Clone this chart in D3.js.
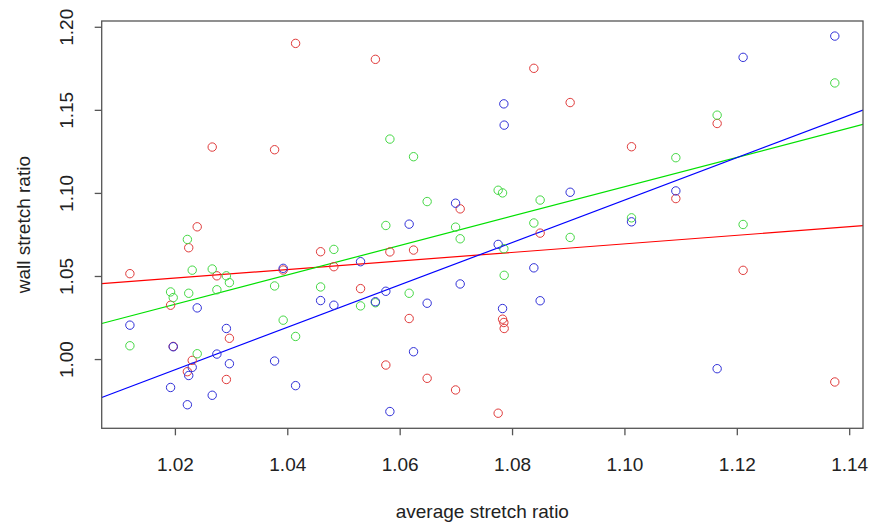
<!DOCTYPE html>
<html><head><meta charset="utf-8">
<script src="https://cdn.jsdelivr.net/npm/d3@7"></script>
<style>body{margin:0;background:#fff}svg{display:block}text{font-family:"Liberation Sans",Arial,sans-serif;fill:#222}</style>
</head><body><svg id="c" width="872" height="527"></svg>
<script>
// average stretch ratio (shared x for three series)
const avgStretch = [1.01199,1.01923,1.01970,1.02222,1.02246,1.02308,1.02397,1.02664,1.02747,1.02916,1.02970,1.03774,1.03927,1.04148,1.04593,1.04829,1.05304,1.05568,1.05754,1.05826,1.06169,1.06247,1.06489,1.06995,1.07077,1.07753,1.07831,1.07854,1.07860,1.08388,1.08500,1.09034,1.10126,1.10915,1.11650,1.12112,1.13744];
const redWall   = [1.0514,1.0324,1.0076,0.9924,1.0670,0.9992,1.0796,1.1276,1.0501,0.9877,1.0125,1.1260,1.0536,1.1900,1.0646,1.0556,1.0424,1.1804,0.9964,1.0645,1.0244,1.0656,0.9884,0.9814,1.0904,0.9674,1.0240,1.0220,1.0184,1.1750,1.0758,1.1544,1.1278,1.0966,1.1418,1.0534,0.9862];
const greenWall = [1.0080,1.0404,1.0370,1.0720,1.0396,1.0535,1.0032,1.0542,1.0417,1.0501,1.0460,1.0440,1.0234,1.0136,1.0434,1.0660,1.0320,1.0339,1.0804,1.1324,1.0396,1.1218,1.0948,1.0794,1.0724,1.1016,1.1000,1.0664,1.0504,1.0819,1.0957,1.0732,1.0850,1.1212,1.1468,1.0810,1.1662];
const blueWall  = [1.0204,0.9829,1.0074,0.9725,0.9901,0.9950,1.0308,0.9782,1.0030,1.0184,0.9972,0.9988,1.0546,0.9840,1.0352,1.0324,1.0586,1.0345,1.0408,0.9684,1.0812,1.0044,1.0336,1.0938,1.0452,1.0690,1.0304,1.1536,1.1408,1.0549,1.0351,1.1004,1.0826,1.1012,0.9942,1.1816,1.1944];
const xTicks = [1.02,1.04,1.06,1.08,1.10,1.12,1.14];
const yTicks = [1.00,1.05,1.10,1.15,1.20];
const seriesNames = ["red","green","blue"];
const seriesColors = ["#e03a3a","#44d844","#3030d8"];
const lineColors = ["#ff0000","#00e000","#0000ff"];
const xLabel = "average stretch ratio";
const yLabel = "wall stretch ratio";

const series = [redWall, greenWall, blueWall];
const svg = d3.select("#c");
const L = 101.7, R = 863, T = 21, B = 428.3;

function pad(ext){ const d = ext[1]-ext[0]; return [ext[0]-0.04*d, ext[1]+0.04*d]; }
const x = d3.scaleLinear().domain(pad(d3.extent(avgStretch))).range([L, R]);
const yAll = redWall.concat(greenWall, blueWall);
const y = d3.scaleLinear().domain(pad(d3.extent(yAll))).range([B, T]);

svg.append("clipPath").attr("id","clip").append("rect").attr("x",L).attr("y",T).attr("width",R-L).attr("height",B-T);

// regression lines
function lm(xs, ys){
  const mx = d3.mean(xs), my = d3.mean(ys);
  let sxy=0, sxx=0;
  xs.forEach((v,i)=>{ sxy += (v-mx)*(ys[i]-my); sxx += (v-mx)*(v-mx); });
  const b = sxy/sxx; return {a: my - b*mx, b};
}
const xd = x.domain();
series.forEach((ys, si) => {
  const f = lm(avgStretch, ys);
  svg.append("line").attr("clip-path","url(#clip)")
    .attr("x1", x(xd[0])).attr("y1", y(f.a + f.b*xd[0]))
    .attr("x2", x(xd[1])).attr("y2", y(f.a + f.b*xd[1]))
    .attr("stroke", lineColors[si]).attr("stroke-width", 1.2);
});

// points
series.forEach((ys, si) => {
  svg.append("g").selectAll("circle").data(ys).join("circle")
    .attr("cx", (d,i) => x(avgStretch[i])).attr("cy", d => y(d)).attr("r", 4.2)
    .attr("fill","none").attr("stroke", seriesColors[si]).attr("stroke-width", 1);
});

// box
svg.append("rect").attr("x",L).attr("y",T).attr("width",R-L).attr("height",B-T)
  .attr("fill","none").attr("stroke","#555").attr("stroke-width",1.3);

// x axis
const xa = svg.append("g").attr("transform",`translate(0,${B})`)
  .call(d3.axisBottom(x).tickValues(xTicks).tickFormat(d3.format(".2f")).tickSize(7).tickPadding(22));
xa.select(".domain").remove();
xa.selectAll("line").attr("stroke","#555").attr("stroke-width",1.3);
xa.selectAll("text").style("font-size","19px").attr("fill","#222");

// y axis
const ya = svg.append("g").attr("transform",`translate(${L},0)`)
  .call(d3.axisLeft(y).tickValues(yTicks).tickFormat(d3.format(".2f")).tickSize(7));
ya.select(".domain").remove();
ya.selectAll("line").attr("stroke","#555").attr("stroke-width",1.3);
ya.selectAll("text").style("font-size","19px").attr("fill","#222")
  .attr("x",null).attr("dy",null)
  .attr("transform", d => `translate(${-29},${0}) rotate(-90)`)
  .attr("text-anchor","middle").attr("dominant-baseline","auto");

svg.append("text").attr("x",(L+R)/2).attr("y",518).attr("text-anchor","middle")
  .style("font-size","19px").text(xLabel);
svg.append("text").attr("transform",`translate(30,${(T+B)/2}) rotate(-90)`).attr("text-anchor","middle")
  .style("font-size","19px").text(yLabel);
</script></body></html>
